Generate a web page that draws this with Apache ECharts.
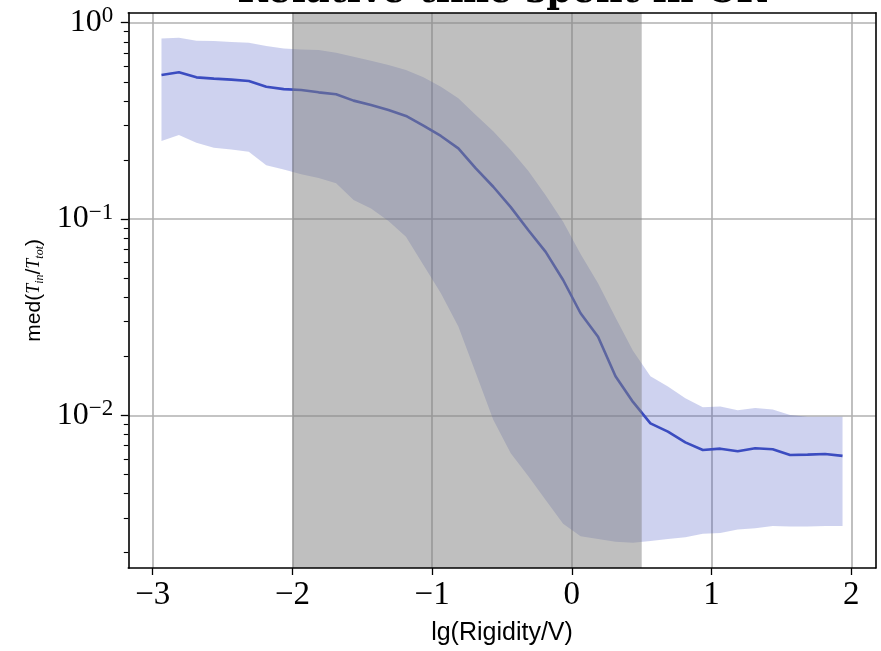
<!DOCTYPE html>
<html><head><meta charset="utf-8">
<script src="https://cdn.jsdelivr.net/npm/echarts@6/dist/echarts.min.js"></script>
<style>html,body{margin:0;padding:0;background:#fff}#c{width:881px;height:651px}</style>
</head><body><div id="c"></div>
<script>
// ---- data ----
const xValues = [-2.9375, -2.8125, -2.6875, -2.5625, -2.4375, -2.3125, -2.1875, -2.0625, -1.9375, -1.8125,
                 -1.6875, -1.5625, -1.4375, -1.3125, -1.1875, -1.0625, -0.9375, -0.8125, -0.6875, -0.5625,
                 -0.4375, -0.3125, -0.1875, -0.0625, 0.0625, 0.1875, 0.3125, 0.4375, 0.5625, 0.6875,
                 0.8125, 0.9375, 1.0625, 1.1875, 1.3125, 1.4375, 1.5625, 1.6875, 1.8125, 1.9375];
const median = [0.542, 0.559, 0.527, 0.519, 0.513, 0.505, 0.472, 0.459, 0.454, 0.442,
                0.432, 0.401, 0.381, 0.359, 0.335, 0.299, 0.265, 0.229, 0.181, 0.146,
                0.115, 0.0879, 0.068, 0.0489, 0.0331, 0.0251, 0.0158, 0.0117, 0.0091, 0.00826,
                0.00728, 0.00666, 0.00676, 0.00656, 0.00679, 0.00671, 0.00628, 0.00630, 0.00635, 0.00621];
const upper = [0.832, 0.839, 0.810, 0.807, 0.797, 0.791, 0.761, 0.740, 0.731, 0.726,
               0.703, 0.671, 0.640, 0.609, 0.574, 0.527, 0.472, 0.412, 0.339, 0.280,
               0.225, 0.176, 0.132, 0.0969, 0.0663, 0.047, 0.0315, 0.0213, 0.0158, 0.0140,
               0.0122, 0.0110, 0.0111, 0.0106, 0.0109, 0.0107, 0.01004, 0.00984, 0.00984, 0.00984];
const lower = [0.250, 0.268, 0.245, 0.231, 0.226, 0.220, 0.188, 0.179, 0.169, 0.162,
               0.152, 0.125, 0.113, 0.0977, 0.0813, 0.0583, 0.0418, 0.0283, 0.0164, 0.0095,
               0.0064, 0.0049, 0.0037, 0.0028, 0.00242, 0.00234, 0.00227, 0.00224, 0.00229, 0.00234,
               0.00239, 0.00249, 0.00251, 0.00262, 0.00266, 0.00273, 0.00271, 0.00271, 0.00273, 0.00273];
const shadedRange = [-2, 0.5];
const xTicks = [-3, -2, -1, 0, 1, 2];
const yTicks = [0.01, 0.1, 1];
const yMinorTicks = [0.002, 0.003, 0.004, 0.005, 0.006, 0.007, 0.008, 0.009,
                     0.02, 0.03, 0.04, 0.05, 0.06, 0.07, 0.08, 0.09,
                     0.2, 0.3, 0.4, 0.5, 0.6, 0.7, 0.8, 0.9];
const titleText = 'Relative time spent in CR';
const xName = 'lg(Rigidity/V)';

// ---- layout / style ----
const X_MIN = -3.175, X_MAX = 2.175, Y_MIN = 0.001667, Y_MAX = 1.125;
const G = {left: 128.3, right: 5.3, top: 12.7, bottom: 83};
const SERIF = '"Liberation Serif", "DejaVu Serif", serif';
const SANS = '"Liberation Sans", "DejaVu Sans", sans-serif';
const gridColor = '#b0b0b0';
const lineColor = '#3b4cc0';

const chart = echarts.init(document.getElementById('c'), null, {renderer: 'canvas'});

const frameLine = {show: true, onZero: false, lineStyle: {color: '#000', width: 1.6}};
function baseX(extra) {
  return Object.assign({type: 'value', min: X_MIN, max: X_MAX,
    axisLine: {show: false, onZero: false}, axisTick: {show: false}, axisLabel: {show: false},
    splitLine: {show: false}}, extra);
}
function baseY(extra) {
  return Object.assign({type: 'log', logBase: 10, min: Y_MIN, max: Y_MAX,
    axisLine: {show: false, onZero: false}, axisTick: {show: false}, axisLabel: {show: false},
    splitLine: {show: false}}, extra);
}
function fmtX(v) {
  const r = Math.round(v);
  return r < 0 ? '\u2212' + (-r) : String(r);
}
function fmtY(v) {
  const e = Math.round(Math.log10(v));
  return '{b|10}{s|' + (e < 0 ? '\u2212' + (-e) : String(e)) + '}';
}

const option = {
  animation: false,
  backgroundColor: '#fff',
  grid: {left: G.left, right: G.right, top: G.top, bottom: G.bottom, containLabel: false},
  graphic: [{
    type: 'text', x: (G.left + 881 - G.right) / 2, y: 11, z: 100,
    style: {text: titleText, fill: '#000', font: 'bold 37px "DejaVu Serif", serif',
            textAlign: 'center', textVerticalAlign: 'bottom'}
  }],
  xAxis: [
    baseX({position: 'bottom', z: 0,
      axisTick: {show: true, customValues: xTicks, length: 7, lineStyle: {color: '#000', width: 1.3}},
      axisLabel: {show: true, customValues: xTicks, formatter: fmtX, margin: 11,
                  fontFamily: SERIF, fontSize: 33, color: '#000'},
      splitLine: {show: true, lineStyle: {color: gridColor, width: 1.6}},
      name: xName, nameLocation: 'middle', nameGap: 53,
      nameTextStyle: {fontFamily: SANS, fontSize: 25, color: '#000'}}),
    baseX({position: 'bottom', z: 10, axisLine: frameLine}),
    baseX({position: 'top', z: 10, axisLine: frameLine})
  ],
  yAxis: [
    baseY({position: 'left', z: 0,
      axisTick: {show: true, customValues: yTicks, length: 7.5, lineStyle: {color: '#000', width: 1.3}},
      axisLabel: {show: true, customValues: yTicks, formatter: fmtY, margin: 15,
        rich: {
          b: {fontFamily: SERIF, fontSize: 32, lineHeight: 36, color: '#000'},
          s: {fontFamily: SERIF, fontSize: 23, lineHeight: 22, verticalAlign: 'top', color: '#000'}
        }},
      splitLine: {show: true, lineStyle: {color: gridColor, width: 1.6}},
      name: '{n|med(}{t|T}{s|in}{n|/}{t|T}{s|tot}{n|)}', nameLocation: 'middle', nameGap: 80,
      nameTextStyle: {
        rich: {
          n: {fontFamily: SANS, fontSize: 21, lineHeight: 24, color: '#000'},
          t: {fontFamily: SERIF, fontStyle: 'italic', fontSize: 18, lineHeight: 24, color: '#000'},
          s: {fontFamily: SERIF, fontStyle: 'italic', fontSize: 12, lineHeight: 14, verticalAlign: 'bottom', color: '#000'}
        }}}),
    baseY({position: 'left', z: 10, axisLine: frameLine,
      axisTick: {show: true, customValues: yMinorTicks, length: 4.5, lineStyle: {color: '#000', width: 1.1}}}),
    baseY({position: 'right', z: 10, axisLine: frameLine})
  ],
  series: [
    {
      type: 'custom', name: 'band', z: 1, xAxisIndex: 0, yAxisIndex: 0,
      data: xValues.map((x, i) => [x, lower[i], upper[i]]),
      encode: {x: 0, y: [1, 2]},
      renderItem: function (params, api) {
        if (params.dataIndex !== 0) return null;
        const pts = [];
        for (let i = 0; i < xValues.length; i++) pts.push(api.coord([xValues[i], upper[i]]));
        for (let i = xValues.length - 1; i >= 0; i--) pts.push(api.coord([xValues[i], lower[i]]));
        return {type: 'polygon', shape: {points: pts}, style: {fill: 'rgba(59,76,192,0.25)'}};
      }
    },
    {
      type: 'line', name: 'median', z: 2, xAxisIndex: 0, yAxisIndex: 0,
      data: xValues.map((x, i) => [x, median[i]]),
      showSymbol: false, symbol: 'none',
      lineStyle: {color: lineColor, width: 2.6}
    },
    {
      type: 'custom', name: 'span', z: 3, xAxisIndex: 0, yAxisIndex: 0,
      data: [[shadedRange[0], shadedRange[1], Y_MIN, Y_MAX]],
      encode: {x: [0, 1], y: [2, 3]},
      renderItem: function (params, api) {
        const a = api.coord([api.value(0), api.value(3)]);
        const b = api.coord([api.value(1), api.value(2)]);
        return {type: 'rect', shape: {x: a[0], y: a[1], width: b[0] - a[0], height: b[1] - a[1]},
                style: {fill: 'rgba(128,128,128,0.5)'}};
      }
    }
  ]
};
chart.setOption(option);
</script>
</body></html>
